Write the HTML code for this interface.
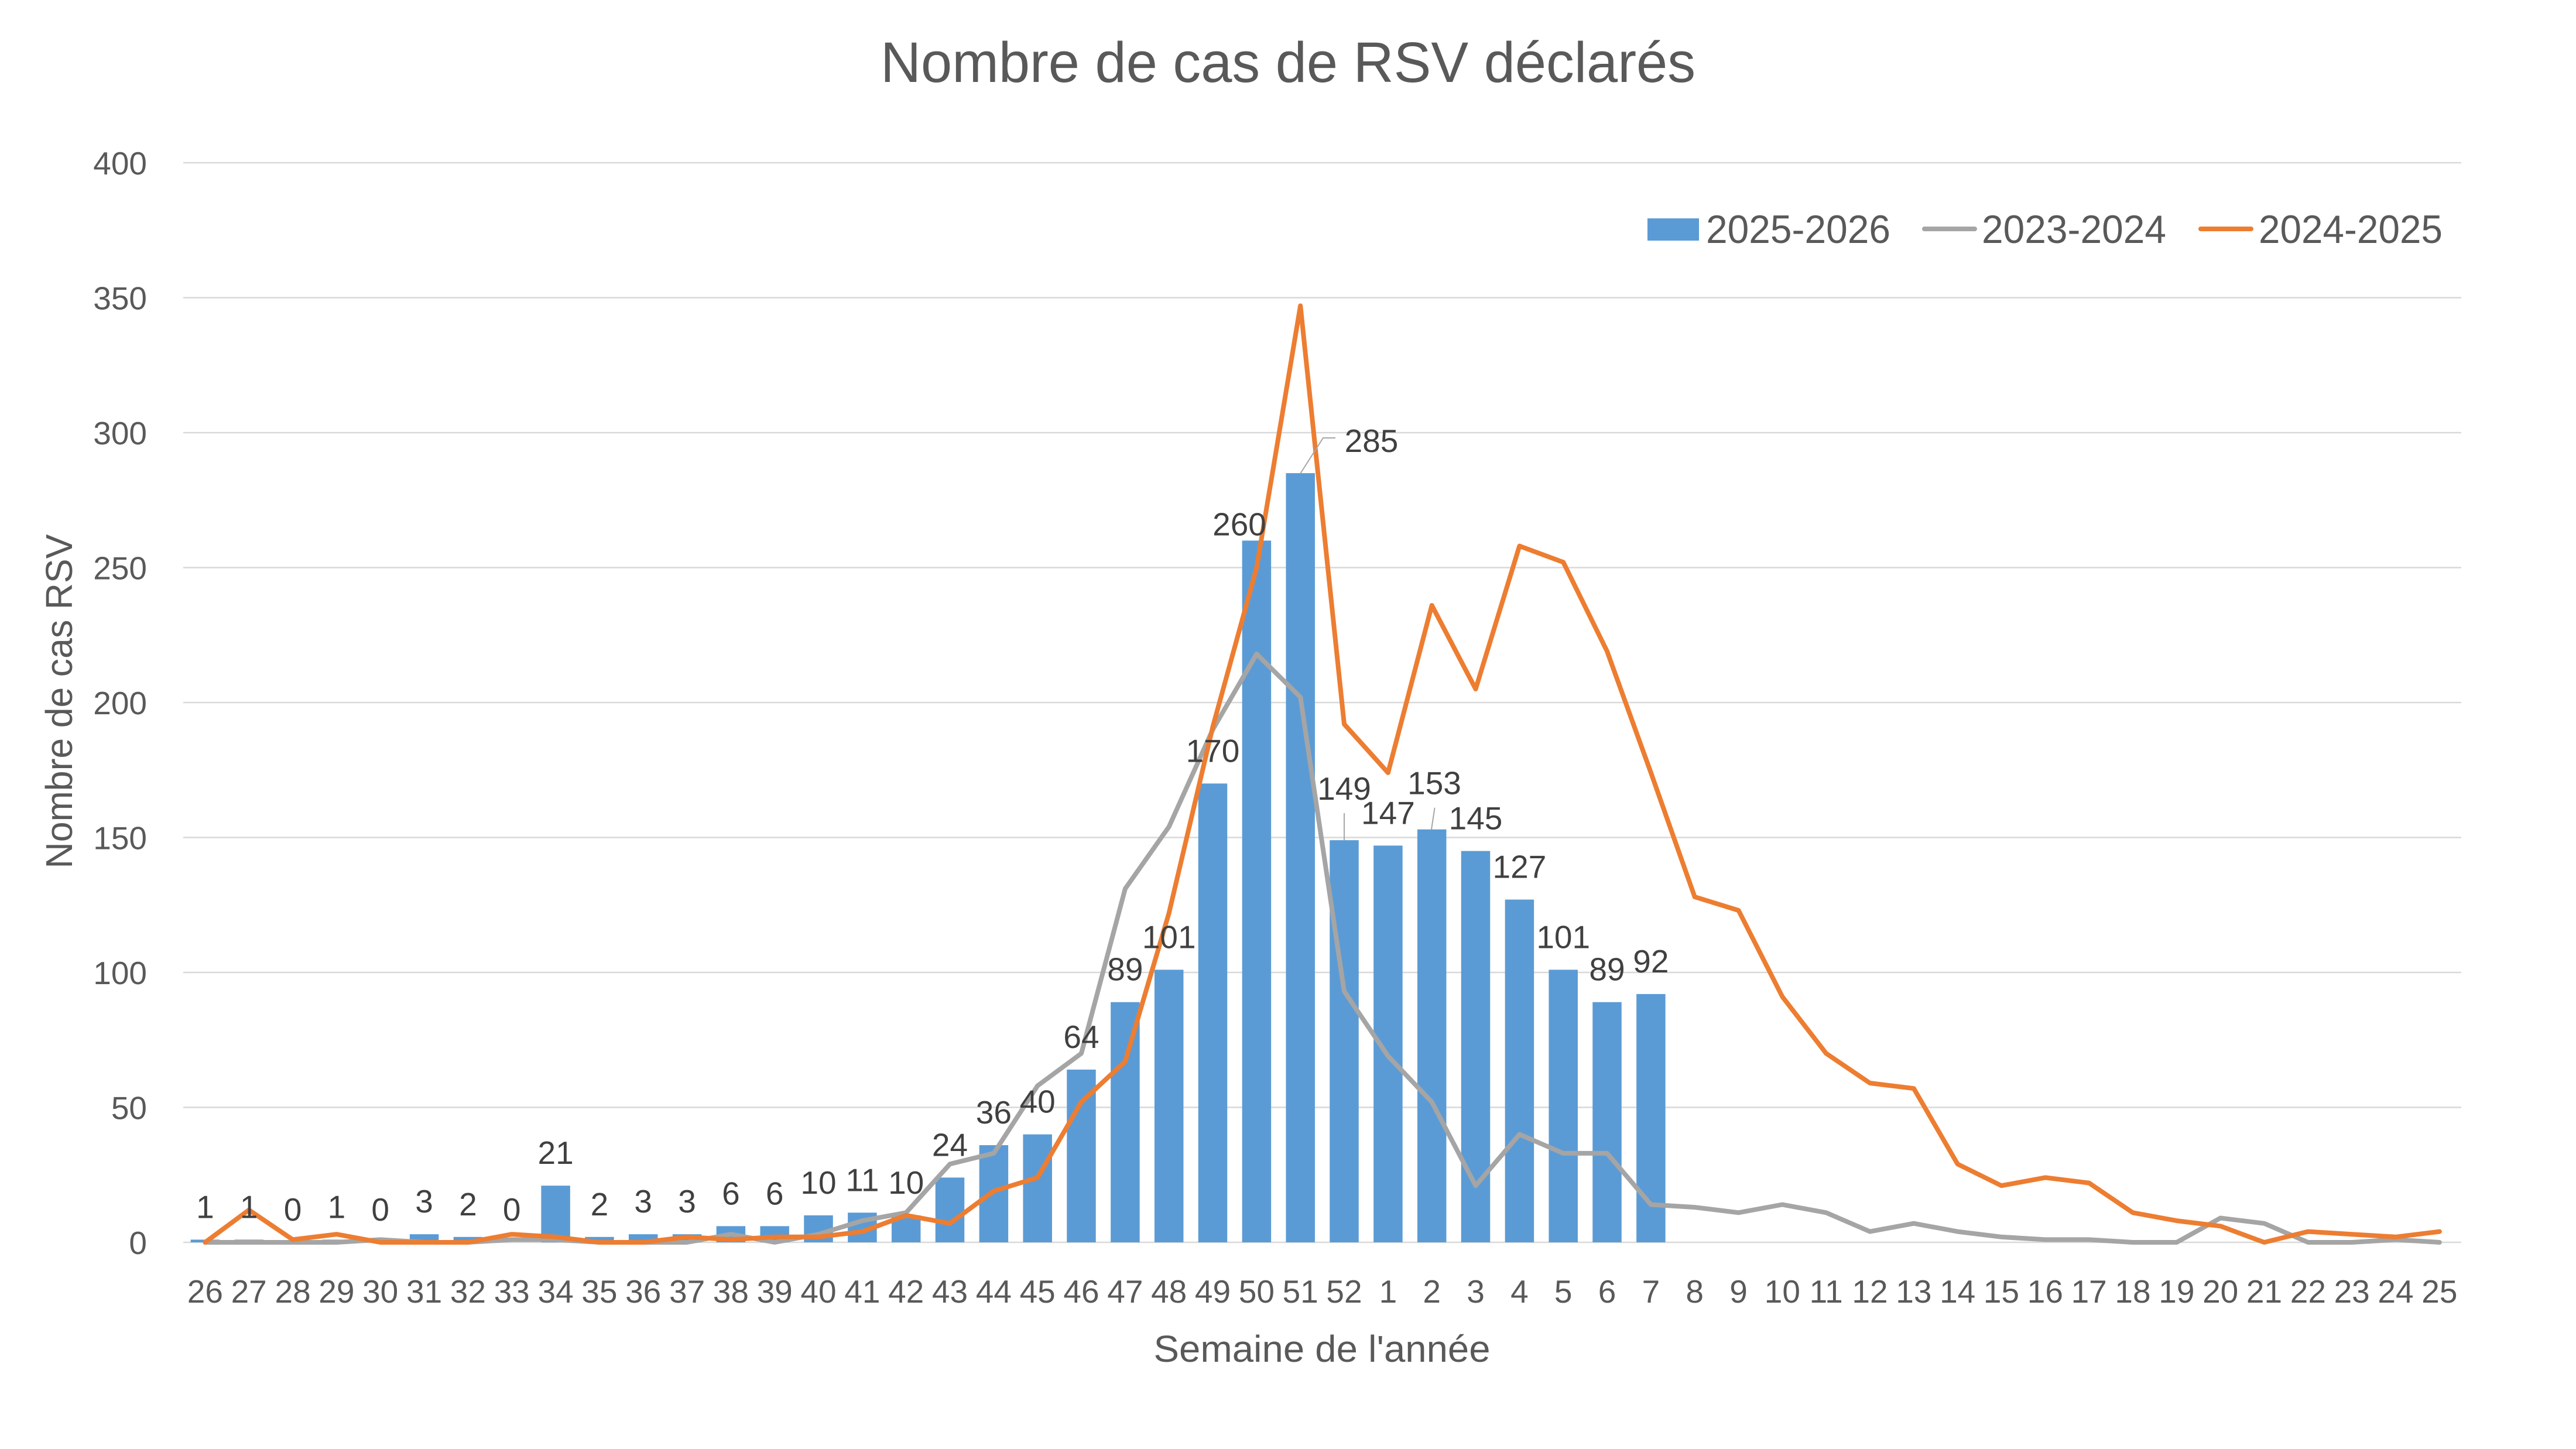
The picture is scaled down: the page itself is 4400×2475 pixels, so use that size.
<!DOCTYPE html>
<html>
<head>
<meta charset="utf-8">
<style>
html,body{margin:0;padding:0;background:#fff;}
svg{display:block;}
text{font-family:"Liberation Sans", sans-serif;}
</style>
</head>
<body>
<svg xmlns="http://www.w3.org/2000/svg" width="4400" height="2475" viewBox="0 0 4400 2475">
<rect x="0" y="0" width="4400" height="2475" fill="#ffffff"/>

<!-- Title -->
<text x="2200" y="140" font-size="97" fill="#595959" text-anchor="middle" textLength="1392" lengthAdjust="spacingAndGlyphs">Nombre de cas de RSV déclarés</text>

<!-- Gridlines -->
<g stroke="#D9D9D9" stroke-width="2.5">
<line x1="313" y1="278" x2="4204" y2="278"/>
<line x1="313" y1="508.5" x2="4204" y2="508.5"/>
<line x1="313" y1="739" x2="4204" y2="739"/>
<line x1="313" y1="969.5" x2="4204" y2="969.5"/>
<line x1="313" y1="1200" x2="4204" y2="1200"/>
<line x1="313" y1="1430.5" x2="4204" y2="1430.5"/>
<line x1="313" y1="1661" x2="4204" y2="1661"/>
<line x1="313" y1="1891.5" x2="4204" y2="1891.5"/>
<line x1="313" y1="2122" x2="4204" y2="2122"/>
</g>

<!-- Y tick labels -->
<g font-size="55" fill="#595959" text-anchor="end">
<text x="251" y="298">400</text>
<text x="251" y="528.5">350</text>
<text x="251" y="759">300</text>
<text x="251" y="989.5">250</text>
<text x="251" y="1220">200</text>
<text x="251" y="1450.5">150</text>
<text x="251" y="1681">100</text>
<text x="251" y="1911.5">50</text>
<text x="251" y="2142">0</text>
</g>

<!-- Y axis title -->
<text transform="translate(123,1198) rotate(-90)" x="0" y="0" font-size="64" fill="#595959" text-anchor="middle" textLength="571" lengthAdjust="spacingAndGlyphs">Nombre de cas RSV</text>

<!-- X tick labels -->
<g font-size="55" fill="#595959" text-anchor="middle">
<text x="350.4" y="2225">26</text>
<text x="425.2" y="2225">27</text>
<text x="500.1" y="2225">28</text>
<text x="574.9" y="2225">29</text>
<text x="649.7" y="2225">30</text>
<text x="724.6" y="2225">31</text>
<text x="799.4" y="2225">32</text>
<text x="874.2" y="2225">33</text>
<text x="949.1" y="2225">34</text>
<text x="1023.9" y="2225">35</text>
<text x="1098.7" y="2225">36</text>
<text x="1173.6" y="2225">37</text>
<text x="1248.4" y="2225">38</text>
<text x="1323.2" y="2225">39</text>
<text x="1398.0" y="2225">40</text>
<text x="1472.9" y="2225">41</text>
<text x="1547.7" y="2225">42</text>
<text x="1622.5" y="2225">43</text>
<text x="1697.4" y="2225">44</text>
<text x="1772.2" y="2225">45</text>
<text x="1847.0" y="2225">46</text>
<text x="1921.9" y="2225">47</text>
<text x="1996.7" y="2225">48</text>
<text x="2071.5" y="2225">49</text>
<text x="2146.4" y="2225">50</text>
<text x="2221.2" y="2225">51</text>
<text x="2296.0" y="2225">52</text>
<text x="2370.9" y="2225">1</text>
<text x="2445.7" y="2225">2</text>
<text x="2520.5" y="2225">3</text>
<text x="2595.4" y="2225">4</text>
<text x="2670.2" y="2225">5</text>
<text x="2745.0" y="2225">6</text>
<text x="2819.9" y="2225">7</text>
<text x="2894.7" y="2225">8</text>
<text x="2969.5" y="2225">9</text>
<text x="3044.4" y="2225">10</text>
<text x="3119.2" y="2225">11</text>
<text x="3194.0" y="2225">12</text>
<text x="3268.9" y="2225">13</text>
<text x="3343.7" y="2225">14</text>
<text x="3418.5" y="2225">15</text>
<text x="3493.4" y="2225">16</text>
<text x="3568.2" y="2225">17</text>
<text x="3643.0" y="2225">18</text>
<text x="3717.9" y="2225">19</text>
<text x="3792.7" y="2225">20</text>
<text x="3867.5" y="2225">21</text>
<text x="3942.4" y="2225">22</text>
<text x="4017.2" y="2225">23</text>
<text x="4092.0" y="2225">24</text>
<text x="4166.9" y="2225">25</text>
</g>

<!-- X axis title -->
<text x="2258" y="2326" font-size="64" fill="#595959" text-anchor="middle" textLength="575" lengthAdjust="spacingAndGlyphs">Semaine de l'année</text>

<!-- Bars 2025-2026 -->
<g fill="#5B9BD5">
<rect x="325.65" y="2117.39" width="49.5" height="4.61"/>
<rect x="400.45" y="2117.39" width="49.5" height="4.61"/>
<rect x="550.15" y="2117.39" width="49.5" height="4.61"/>
<rect x="699.85" y="2108.17" width="49.5" height="13.83"/>
<rect x="774.65" y="2112.78" width="49.5" height="9.22"/>
<rect x="924.35" y="2025.19" width="49.5" height="96.81"/>
<rect x="999.15" y="2112.78" width="49.5" height="9.22"/>
<rect x="1073.95" y="2108.17" width="49.5" height="13.83"/>
<rect x="1148.85" y="2108.17" width="49.5" height="13.83"/>
<rect x="1223.65" y="2094.34" width="49.5" height="27.66"/>
<rect x="1298.45" y="2094.34" width="49.5" height="27.66"/>
<rect x="1373.25" y="2075.9" width="49.5" height="46.1"/>
<rect x="1448.15" y="2071.29" width="49.5" height="50.71"/>
<rect x="1522.95" y="2075.9" width="49.5" height="46.1"/>
<rect x="1597.75" y="2011.36" width="49.5" height="110.64"/>
<rect x="1672.65" y="1956.04" width="49.5" height="165.96"/>
<rect x="1747.45" y="1937.6" width="49.5" height="184.4"/>
<rect x="1822.25" y="1826.96" width="49.5" height="295.04"/>
<rect x="1897.15" y="1711.71" width="49.5" height="410.29"/>
<rect x="1971.95" y="1656.39" width="49.5" height="465.61"/>
<rect x="2046.75" y="1338.3" width="49.5" height="783.7"/>
<rect x="2121.65" y="923.4" width="49.5" height="1198.6"/>
<rect x="2196.45" y="808.15" width="49.5" height="1313.85"/>
<rect x="2271.25" y="1435.11" width="49.5" height="686.89"/>
<rect x="2346.15" y="1444.33" width="49.5" height="677.67"/>
<rect x="2420.95" y="1416.67" width="49.5" height="705.33"/>
<rect x="2495.75" y="1453.55" width="49.5" height="668.45"/>
<rect x="2570.65" y="1536.53" width="49.5" height="585.47"/>
<rect x="2645.45" y="1656.39" width="49.5" height="465.61"/>
<rect x="2720.25" y="1711.71" width="49.5" height="410.29"/>
<rect x="2795.15" y="1697.88" width="49.5" height="424.12"/>
</g>

<!-- 2023-2024 gray line -->
<polyline fill="none" stroke="#A5A5A5" stroke-width="8" stroke-linejoin="round" stroke-linecap="round" points="350.4,2122 425.2,2122 500.1,2122 574.9,2122 649.7,2117.4 724.6,2122 799.4,2122 874.2,2117.4 949.1,2117.4 1023.9,2122 1098.7,2122 1173.6,2122 1248.4,2108.2 1323.2,2122 1398,2108.2 1472.9,2085.1 1547.7,2071.3 1622.5,1988.3 1697.4,1969.9 1772.2,1854.6 1847,1799.3 1921.9,1518.1 1996.7,1412.1 2071.5,1246.1 2146.4,1117 2221.2,1190.8 2296,1693.3 2370.9,1803.9 2445.7,1882.3 2520.5,2025.2 2595.4,1937.6 2670.2,1969.9 2745,1969.9 2819.9,2057.5 2894.7,2062.1 2969.5,2071.3 3044.4,2057.5 3119.2,2071.3 3194,2103.6 3268.9,2089.7 3343.7,2103.6 3418.5,2112.8 3493.4,2117.4 3568.2,2117.4 3643,2122 3717.9,2122 3792.7,2080.5 3867.5,2089.7 3942.4,2122 4017.2,2122 4092,2117.4 4166.9,2122"/>

<!-- 2024-2025 orange line -->
<polyline fill="none" stroke="#ED7D31" stroke-width="8" stroke-linejoin="round" stroke-linecap="round" points="350.4,2122 425.2,2066.7 500.1,2117.4 574.9,2108.2 649.7,2122 724.6,2122 799.4,2122 874.2,2108.2 949.1,2112.8 1023.9,2122 1098.7,2122 1173.6,2112.8 1248.4,2117.4 1323.2,2112.8 1398,2112.8 1472.9,2103.6 1547.7,2075.9 1622.5,2089.7 1697.4,2034.4 1772.2,2011.4 1847,1882.3 1921.9,1813.1 1996.7,1559.6 2071.5,1241.5 2146.4,969.5 2221.2,522.3 2296,1236.9 2370.9,1319.9 2445.7,1034 2520.5,1176.9 2595.4,932.6 2670.2,960.3 2745,1112.4 2819.9,1319.9 2894.7,1531.9 2969.5,1555 3044.4,1702.5 3119.2,1799.3 3194,1850 3268.9,1859.2 3343.7,1988.3 3418.5,2025.2 3493.4,2011.4 3568.2,2020.6 3643,2071.3 3717.9,2085.1 3792.7,2094.3 3867.5,2122 3942.4,2103.6 4017.2,2108.2 4092,2112.8 4166.9,2103.6"/>

<!-- Leader lines -->
<g fill="none" stroke="#A6A6A6" stroke-width="2">
<polyline points="2221,809 2260,748 2281,748"/>
<line x1="2296" y1="1435" x2="2296" y2="1389"/>
<line x1="2445" y1="1416.7" x2="2450.6" y2="1379.7"/>
</g>

<!-- Data labels -->
<g font-size="55" fill="#404040" text-anchor="middle">
<text x="350.4" y="2080.4">1</text>
<text x="425.2" y="2080.4">1</text>
<text x="500.1" y="2085">0</text>
<text x="574.9" y="2080.4">1</text>
<text x="649.7" y="2085">0</text>
<text x="724.6" y="2071.2">3</text>
<text x="799.4" y="2075.8">2</text>
<text x="874.2" y="2085">0</text>
<text x="949.1" y="1988.2">21</text>
<text x="1023.9" y="2075.8">2</text>
<text x="1098.7" y="2071.2">3</text>
<text x="1173.6" y="2071.2">3</text>
<text x="1248.4" y="2057.3">6</text>
<text x="1323.2" y="2057.3">6</text>
<text x="1398.0" y="2038.9">10</text>
<text x="1472.9" y="2034.3">11</text>
<text x="1547.7" y="2038.9">10</text>
<text x="1622.5" y="1974.4">24</text>
<text x="1697.4" y="1919">36</text>
<text x="1772.2" y="1900.6">40</text>
<text x="1847.0" y="1790">64</text>
<text x="1921.9" y="1674.7">89</text>
<text x="1996.7" y="1619.4">101</text>
<text x="2071.5" y="1301.3">170</text>
<text x="2117" y="914.5">260</text>
<text x="2342.5" y="772">285</text>
<text x="2296.0" y="1366">149</text>
<text x="2370.9" y="1407.3">147</text>
<text x="2450" y="1356.5">153</text>
<text x="2520.5" y="1416.5">145</text>
<text x="2595.4" y="1499.5">127</text>
<text x="2670.2" y="1619.4">101</text>
<text x="2745.0" y="1674.7">89</text>
<text x="2819.9" y="1660.9">92</text>
</g>

<!-- Legend -->
<rect x="2814" y="373" width="88" height="38" fill="#5B9BD5"/>
<text x="2914" y="415" font-size="68" fill="#595959" textLength="315" lengthAdjust="spacingAndGlyphs">2025-2026</text>
<line x1="3287" y1="391" x2="3373" y2="391" stroke="#A5A5A5" stroke-width="8" stroke-linecap="round"/>
<text x="3385" y="415" font-size="68" fill="#595959" textLength="315" lengthAdjust="spacingAndGlyphs">2023-2024</text>
<line x1="3759" y1="391" x2="3845" y2="391" stroke="#ED7D31" stroke-width="8" stroke-linecap="round"/>
<text x="3858" y="415" font-size="68" fill="#595959" textLength="314" lengthAdjust="spacingAndGlyphs">2024-2025</text>
</svg>
</body>
</html>
